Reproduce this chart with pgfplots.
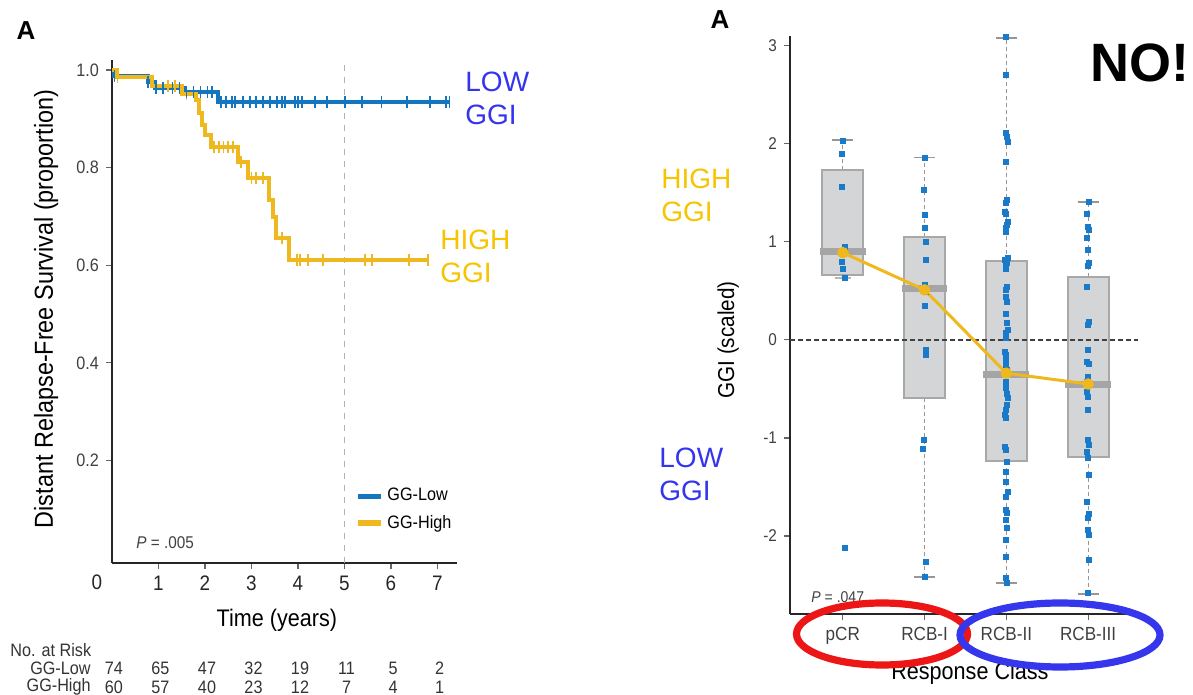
\documentclass[border=0pt]{standalone}
\usepackage{pgfplots}
\pgfplotsset{compat=1.18}
\usepgfplotslibrary{statistics}
\usepackage{fontspec}
\setmainfont{Liberation Sans}
\newfontfamily\cond[FakeStretch=0.9]{Liberation Sans}
\definecolor{kmblue}{RGB}{20,118,190}
\definecolor{kmyellow}{RGB}{238,184,30}
\definecolor{annblue}{RGB}{52,52,240}
\definecolor{annyellow}{RGB}{246,196,0}
\definecolor{ptblue}{RGB}{24,122,200}
\definecolor{boxfill}{RGB}{212,213,214}
\definecolor{boxedge}{RGB}{168,168,168}
\definecolor{medgray}{RGB}{165,165,165}
\definecolor{whisk}{RGB}{150,150,150}
\definecolor{ellred}{RGB}{236,22,22}
\definecolor{ellblue}{RGB}{54,54,236}
\begin{document}
\begin{tikzpicture}
\path[use as bounding box] (0pt,0pt) rectangle (596.5pt,347.5pt);
% ---------------- left: Kaplan-Meier ----------------
\begin{axis}[
  at={(56pt,66pt)}, anchor=south west, scale only axis,
  width=172.5pt, height=251.5pt,
  xmin=0, xmax=7.42, ymin=-0.0102, ymax=1.0205,
  axis x line=bottom, axis y line=left,
  axis line style={-, line width=1.1pt, color=black!85},
  xtick={1,2,3,4,5,6,7}, xticklabels={1,2,3,4,5,6,7},
  ytick={0.2,0.4,0.6,0.8,1.0}, yticklabels={0.2,0.4,0.6,0.8,1.0},
  tick align=outside, major tick length=3pt,
  tick style={black!60, line width=0.6pt},
  yticklabel style={font=\cond\fontsize{9}{10}\selectfont, text=black!75},
  xticklabel style={font=\cond\fontsize{10.5}{12}\selectfont, text=black!85},
  xlabel={Time (years)}, ylabel={Distant Relapse-Free Survival (proportion)},
  xlabel style={font=\cond\fontsize{12}{14}\selectfont, at={(axis description cs:0.478,-0.113)}, anchor=center},
  ylabel style={font=\cond\fontsize{13}{15}\selectfont, at={(axis description cs:-0.191,0.505)}, anchor=center},
  legend style={at={(0.704,0.157)}, anchor=north west, draw=none, fill=none,
    font=\cond\fontsize{9}{10}\selectfont, row sep=1.5pt, inner sep=0pt},
  legend cell align=left,
  legend image code/.code={\draw[line width=2.6pt] (0pt,0pt) -- (11.5pt,0pt);},
  clip=false,
]
\addplot[black!30, dashed, line width=0.7pt, forget plot] coordinates {(5,-0.0102) (5,1.0205)};
\addplot[kmblue, line width=2pt, const plot] coordinates {
(0,1.0) (0.05,0.987) (0.78,0.975) (0.92,0.963) (1.55,0.955) (2.28,0.934) (7.26,0.934)};
\addlegendentry{GG-Low}
\addplot[kmyellow, line width=2pt, const plot] coordinates {
(0,1.0) (0.1,0.985) (0.85,0.967) (1.5,0.951) (1.8,0.938) (1.88,0.912) (1.93,0.887) (2.0,0.867)
(2.13,0.842) (2.72,0.811) (2.93,0.779) (3.38,0.734) (3.47,0.699) (3.53,0.656) (3.8,0.611) (6.8,0.611)};
\addlegendentry{GG-High}
\addplot[kmyellow, only marks, mark=|, mark size=3pt, mark options={line width=0.8pt}, forget plot] coordinates {
(0.12,0.985) (1.2,0.967) (1.35,0.967) (1.6,0.951) (2.2,0.842) (2.3,0.842) (2.4,0.842) (2.5,0.842) (2.6,0.842)
(2.78,0.811) (3.0,0.779) (3.1,0.779) (3.25,0.779) (3.65,0.656) (3.98,0.611) (4.04,0.611) (4.22,0.611)
(4.54,0.611) (5.44,0.611) (5.59,0.611) (6.39,0.611) (6.8,0.611)};
\addplot[kmblue, only marks, mark=|, mark size=3pt, mark options={line width=0.8pt}, forget plot] coordinates {
(0.05,0.987) (0.78,0.975) (0.95,0.963) (1.1,0.963) (1.3,0.963) (1.45,0.963) (1.6,0.955) (1.75,0.955)
(1.9,0.955) (2.05,0.955) (2.15,0.955) (2.35,0.934) (2.45,0.934) (2.58,0.934) (2.65,0.934) (2.82,0.934)
(2.97,0.934) (3.1,0.934) (3.25,0.934) (3.4,0.934) (3.55,0.934) (3.66,0.934) (3.72,0.934) (3.94,0.934)
(4.0,0.934) (4.09,0.934) (4.37,0.934) (4.62,0.934) (5.01,0.934) (5.38,0.934) (5.8,0.934) (6.34,0.934)
(6.84,0.934) (7.18,0.934) (7.26,0.934)};
\end{axis}
% ---------------- right: box plot ----------------
\begin{axis}[
  at={(395pt,40.5pt)}, anchor=south west, scale only axis,
  width=174pt, height=289pt,
  xmin=0.354, xmax=4.61, ymin=-2.796, ymax=3.10,
  axis x line=bottom, axis y line=left,
  axis line style={-, line width=0.8pt, color=black!85},
  xtick={1,2,3,4}, xticklabels={pCR,RCB-I,RCB-II,RCB-III},
  ytick={-2,-1,0,1,2,3}, yticklabels={-2,-1,0,1,2,3},
  tick align=outside, major tick length=3pt,
  tick style={black!60, line width=0.6pt},
  yticklabel style={font=\cond\fontsize{8.5}{10}\selectfont, text=black!75},
  xticklabel style={font=\cond\fontsize{9.5}{11}\selectfont, text=black!75},
  xlabel={Response Class}, ylabel={GGI (scaled)},
  xlabel style={font=\cond\fontsize{12}{14}\selectfont, at={(axis description cs:0.517,-0.102)}, anchor=center},
  ylabel style={font=\cond\fontsize{11.5}{13}\selectfont, at={(axis description cs:-0.178,0.474)}, anchor=center},
  boxplot/draw direction=y,
  boxplot/every box/.style={fill=boxfill, draw=boxedge, line width=1pt},
  boxplot/every whisker/.style={draw=whisk, line width=0.6pt, dash pattern=on 2pt off 1.5pt},
  boxplot/every median/.style={draw=none},
  clip=false,
]
\addplot[boxedge, boxplot prepared={draw position=1, median=0.90, upper quartile=1.73, lower quartile=0.66,
  upper whisker=2.04, lower whisker=0.63, box extend=0.5, whisker extend=0}] coordinates {};
\addplot[boxedge, boxplot prepared={draw position=2, median=0.52, upper quartile=1.05, lower quartile=-0.59,
  upper whisker=1.86, lower whisker=-2.42, box extend=0.5, whisker extend=0}] coordinates {};
\addplot[boxedge, boxplot prepared={draw position=3, median=-0.35, upper quartile=0.80, lower quartile=-1.24,
  upper whisker=3.08, lower whisker=-2.48, box extend=0.5, whisker extend=0}] coordinates {};
\addplot[boxedge, boxplot prepared={draw position=4, median=-0.46, upper quartile=0.64, lower quartile=-1.19,
  upper whisker=1.41, lower whisker=-2.59, box extend=0.5, whisker extend=0}] coordinates {};
% whisker caps
\addplot[whisk, line width=0.9pt, forget plot] coordinates {(0.87,2.04) (1.13,2.04)};
\addplot[whisk!70, line width=0.9pt, forget plot] coordinates {(0.9,0.63) (1.1,0.63)};
\addplot[whisk, line width=0.9pt, forget plot] coordinates {(1.87,1.86) (2.13,1.86)};
\addplot[whisk, line width=0.9pt, forget plot] coordinates {(1.87,-2.42) (2.13,-2.42)};
\addplot[whisk, line width=0.9pt, forget plot] coordinates {(2.87,3.08) (3.13,3.08)};
\addplot[whisk, line width=0.9pt, forget plot] coordinates {(2.87,-2.48) (3.13,-2.48)};
\addplot[whisk, line width=0.9pt, forget plot] coordinates {(3.87,1.41) (4.13,1.41)};
\addplot[whisk, line width=0.9pt, forget plot] coordinates {(3.87,-2.59) (4.13,-2.59)};
% zero line
\addplot[black!75, line width=0.7pt, dash pattern=on 2.5pt off 1.5pt, forget plot] coordinates {(0.354,0) (4.61,0)};
% points
\addplot[ptblue, only marks, mark=square*, mark size=1.25pt] coordinates {
(1.00,2.03) (0.99,1.90) (0.99,1.56) (1.02,0.95) (1.01,0.88) (0.99,0.80) (1.00,0.72) (1.02,0.63) (1.02,-2.12)
(2.00,1.86) (1.99,1.53) (2.00,1.28) (2.00,1.14) (2.01,1.00) (2.02,0.82) (2.00,0.56) (2.01,0.49) (2.00,0.35)
(2.02,-0.10) (2.02,-0.15) (1.99,-1.02) (1.98,-1.11) (2.01,-2.26) (2.00,-2.42)
(3.00,3.09) (3.00,2.70) (2.99,2.11) (3.01,2.07) (3.02,2.02) (3.00,1.82) (3.01,1.43) (3.00,1.40) (2.98,1.31)
(2.99,1.29) (3.02,1.20) (3.01,1.17) (2.99,1.14) (3.00,1.10) (3.02,0.84) (2.98,0.82) (3.01,0.79) (2.99,0.75)
(3.00,0.72) (3.01,0.54) (2.99,0.51) (3.00,0.44) (3.01,0.39) (3.00,0.27) (3.01,0.17) (3.02,0.10) (3.00,0.07)
(2.99,0.02) (2.98,-0.12) (3.00,-0.15) (2.99,-0.20) (3.00,-0.26) (3.01,-0.31) (2.99,-0.36) (3.00,-0.43)
(2.99,-0.49) (3.01,-0.55) (3.02,-0.59) (3.01,-0.66) (2.99,-0.71) (2.98,-0.77) (3.00,-0.80) (2.98,-1.09)
(3.00,-1.12) (3.01,-1.24) (2.99,-1.35) (3.00,-1.45) (3.02,-1.55) (3.00,-1.60) (2.99,-1.73) (3.01,-1.76)
(3.00,-1.84) (3.01,-1.92) (2.99,-2.04) (3.00,-2.21) (2.99,-2.43) (3.01,-2.48)
(4.01,1.41) (3.99,1.29) (4.00,1.15) (4.01,1.12) (3.99,1.04) (4.00,0.92) (4.01,0.79) (4.00,0.75) (3.99,0.54)
(4.01,0.18) (4.00,0.15) (4.00,-0.10) (3.99,-0.22) (4.01,-0.24) (4.00,-0.38) (3.99,-0.43) (3.98,-0.53)
(4.00,-0.58) (4.00,-0.71) (4.00,-1.02) (4.01,-1.07) (3.99,-1.14) (4.00,-1.20) (4.01,-1.38) (3.98,-1.65)
(4.01,-1.77) (4.00,-1.82) (4.00,-1.94) (4.01,-1.99) (4.01,-2.24) (4.00,-2.58)};
% medians
\addplot[medgray, line width=3.5pt, forget plot] coordinates {(0.72,0.90) (1.28,0.90)};
\addplot[medgray, line width=3.5pt, forget plot] coordinates {(1.72,0.52) (2.28,0.52)};
\addplot[medgray, line width=3.5pt, forget plot] coordinates {(2.72,-0.35) (3.28,-0.35)};
\addplot[medgray, line width=3.5pt, forget plot] coordinates {(3.72,-0.46) (4.28,-0.46)};
\addplot[kmyellow, line width=1.5pt, mark=*, mark size=2.1pt] coordinates {(1,0.89) (2,0.51) (3,-0.34) (4,-0.45)};
\end{axis}
% ---------------- annotations ----------------
\node[font=\bfseries\fontsize{13}{15}\selectfont] at (13pt,332pt) {A};
\node[font=\bfseries\fontsize{13}{15}\selectfont] at (360pt,337.5pt) {A};
\node[anchor=west, inner sep=0pt, font=\bfseries\fontsize{27}{29}\selectfont] at (545pt,316pt) {NO!};
\node[anchor=west, inner sep=0pt, align=left, text=annblue, font=\fontsize{14}{16.5}\selectfont] at (232.5pt,298.5pt) {LOW\\GGI};
\node[anchor=west, inner sep=0pt, align=left, text=annyellow, font=\fontsize{14}{16.5}\selectfont] at (220pt,219.5pt) {HIGH\\GGI};
\node[anchor=west, inner sep=0pt, align=left, text=annyellow, font=\fontsize{14}{16.5}\selectfont] at (330.5pt,250pt) {HIGH\\GGI};
\node[anchor=west, inner sep=0pt, align=left, text=annblue, font=\fontsize{14}{16.5}\selectfont] at (329.5pt,110.5pt) {LOW\\GGI};
\node[anchor=center, font=\cond\fontsize{10.5}{12}\selectfont, text=black!85] at (48.5pt,56.5pt) {0};
\node[anchor=west, inner sep=0pt, font=\cond\fontsize{8.5}{10}\selectfont, text=black!75] at (68pt,76pt) {\textit{P} = .005};
\node[anchor=west, inner sep=0pt, font=\cond\fontsize{7.8}{9}\selectfont, text=black!75] at (405.5pt,49pt) {\textit{P} = .047};
% number at risk
\begin{scope}[font=\cond\fontsize{9}{10}\selectfont, text=black!80, inner sep=0pt]
\node[anchor=west] at (5pt,22.5pt) {No. at Risk};
\node[anchor=east] at (45.5pt,13.5pt) {GG-Low};
\node[anchor=east] at (45.5pt,4pt) {GG-High};
\foreach \v [count=\i from 0] in {74,65,47,32,19,11,5,2} {\node at ({57pt+23.25pt*\i},13.5pt) {\v};}
\foreach \v [count=\i from 0] in {60,57,40,23,12,7,4,1} {\node at ({57pt+23.25pt*\i},4pt) {\v};}
\end{scope}
% ellipses
\draw[ellred, line width=3.6pt] (441pt,30.5pt) ellipse [x radius=42.75pt, y radius=15.5pt];
\draw[ellblue, line width=3.6pt] (530pt,30pt) ellipse [x radius=50pt, y radius=16pt];
\end{tikzpicture}
\end{document}
